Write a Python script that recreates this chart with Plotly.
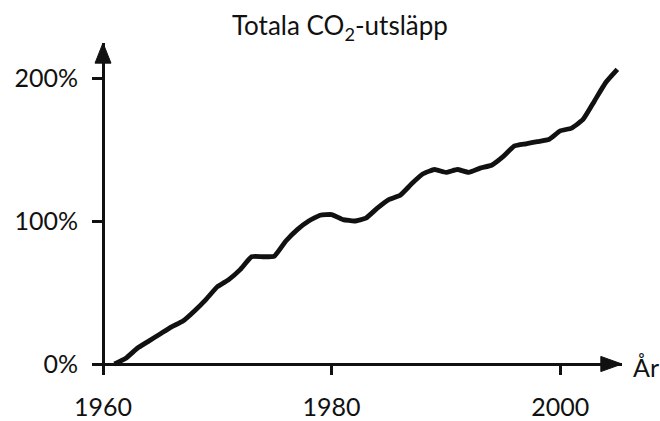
import plotly.graph_objects as go

years = list(range(1961, 2006))
emissions_pct = [0, 4, 11, 16, 21, 26, 30, 37, 45, 54,
                 59, 66, 75, 75, 75.5, 86, 94, 100, 104, 104.5,
                 101, 100, 102, 109, 115, 118, 126, 133, 136, 134,
                 136, 134, 137, 139, 145, 152.5, 154, 155.5, 157, 163,
                 165, 171, 184, 197, 206]
x_ticks = [1960, 1980, 2000]
y_ticks = [0, 100, 200]
y_tick_labels = ["0%", "100%", "200%"]

FONT = "Lato, 'Open Sans', sans-serif"
INK = "#111111"

fig = go.Figure()
fig.add_trace(go.Scatter(
    x=years, y=emissions_pct, mode="lines",
    line=dict(color=INK, width=4.8, shape="spline", smoothing=0.4),
    hoverinfo="x+y", showlegend=False,
))

# plot-area geometry
L, R, T, B = 93, 38, 43, 48
W, H = 660, 421
pw, ph = W - L - R, H - T - B
x0 = 1959.125
x1 = x0 + pw / 11.43
y0 = -9 / 1.43
y1 = y0 + ph / 1.43
xpos = (103 - L) / pw      # y-axis position (paper fraction)
ypos = (H - B - 364) / ph  # x-axis position (paper fraction)

fig.update_layout(
    width=W, height=H,
    margin=dict(l=L, r=R, t=T, b=B, autoexpand=False),
    paper_bgcolor="white", plot_bgcolor="white",
    font=dict(family=FONT, size=25, color=INK),
    title=dict(text="Totala CO<sub>2</sub>-utsläpp", x=0.515, xanchor="center",
               y=0.938, yanchor="middle", font=dict(size=26, color=INK)),
    xaxis=dict(range=[x0, x1], anchor="free", position=ypos, automargin=False,
               showline=True, linecolor=INK, linewidth=3,
               tickmode="array", tickvals=x_ticks, ticks="outside",
               ticklen=9, tickwidth=3, tickcolor=INK,
               showgrid=False, zeroline=False, ticklabelstandoff=11),
    yaxis=dict(range=[y0, y1], anchor="free", position=xpos, automargin=False,
               showline=True, linecolor=INK, linewidth=3,
               tickmode="array", tickvals=y_ticks, ticktext=y_tick_labels,
               ticks="outside", ticklen=10, tickwidth=3, tickcolor=INK,
               showgrid=False, zeroline=False, ticklabelstandoff=9),
    shapes=[
        dict(type="path", xref="paper", yref="y",
             path="M 1,0 L 0.960,5.3 L 0.960,-5.3 Z",
             fillcolor=INK, line=dict(color=INK, width=1)),
        dict(type="path", xref="x", yref="paper",
             path="M 1960,1 L 1959.3,0.939 L 1960.7,0.939 Z",
             fillcolor=INK, line=dict(color=INK, width=1)),
    ],
    annotations=[
        dict(text="År", xref="paper", yref="y", x=1, y=0,
             xanchor="left", yanchor="middle", xshift=9, yshift=-3,
             showarrow=False, font=dict(size=25, color=INK)),
    ],
)

fig.write_html(
    "out.html",
    config={"displayModeBar": False},
    post_script="document.body.style.margin='0';document.body.style.padding='0';",
)
